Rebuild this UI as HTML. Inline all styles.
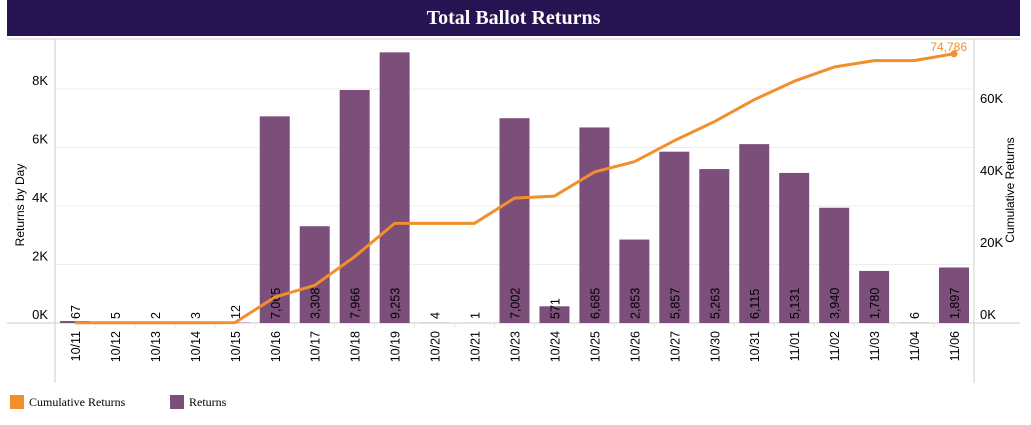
<!DOCTYPE html>
<html><head><meta charset="utf-8"><style>
body{margin:0;background:#fff;font-family:"Liberation Sans",sans-serif}
</style></head><body>
<div style="position:absolute;left:7px;top:0;width:1013px;height:36px;background:#261452;color:#fff;font-family:'Liberation Serif',serif;font-weight:bold;font-size:20px;text-align:center;line-height:36px">Total Ballot Returns</div>
<svg id="c" width="1031" height="425" style="position:absolute;left:0;top:0;pointer-events:none" xmlns="http://www.w3.org/2000/svg"></svg>
<script>
const categories=["10/11","10/12","10/13","10/14","10/15","10/16","10/17","10/18","10/19","10/20","10/21","10/23","10/24","10/25","10/26","10/27","10/30","10/31","11/01","11/02","11/03","11/04","11/06"];
const returns=[67,5,2,3,12,7065,3308,7966,9253,4,1,7002,571,6685,2853,5857,5263,6115,5131,3940,1780,6,1897];
const leftTicks=[0,2000,4000,6000,8000];
const rightTicks=[0,20000,40000,60000];
const svg=document.getElementById('c');
const NS='http://www.w3.org/2000/svg';
const X0=55,X1=974,BASE=323;
const bw=(X1-X0)/categories.length;
const xc=i=>X0+bw*(i+0.5);
const yL=v=>BASE-v*0.02925;
const yR=v=>BASE-v*0.0036;
function el(t,a,name,txt){const e=document.createElementNS(NS,t);for(const k in a)e.setAttribute(k,a[k]);


if(txt!==undefined)e.textContent=txt;svg.appendChild(e);return e;}
el('line',{x1:7,x2:1020,y1:39,y2:39,stroke:'#d0d0d0'},'top-border');
leftTicks.forEach(v=>{if(v>0)el('line',{x1:X0,x2:X1,y1:yL(v),y2:yL(v),stroke:'#eeeeee'},'gridline');
el('text',{x:48,y:yL(v)-4,'text-anchor':'end','font-size':13,fill:'#000'},'left-tick-label',(v/1000)+'K');});
rightTicks.forEach(v=>{el('text',{x:980,y:yR(v)-4,'font-size':13,fill:'#000'},'right-tick-label',(v/1000)+'K');});
el('line',{x1:X0,x2:X0,y1:39,y2:383,stroke:'#cccccc'},'left-axis-line');
el('line',{x1:X1,x2:X1,y1:39,y2:383,stroke:'#cccccc'},'right-axis-line');
el('line',{x1:7,x2:1020,y1:BASE,y2:BASE,stroke:'#cccccc'},'x-axis-line');
el('text',{transform:'translate(24,205) rotate(-90)','text-anchor':'middle','font-size':12},'y-axis-title','Returns by Day');
el('text',{transform:'translate(1014,190) rotate(-90)','text-anchor':'middle','font-size':12},'y2-axis-title','Cumulative Returns');
let cum=0;const pts=[];
categories.forEach((c,i)=>{
 const v=returns[i];const y=yL(v);const x=xc(i);
 el('rect',{x:x-15,y:y,width:30,height:BASE-y,fill:'#7b4f7a'},'bar-'+c.replace('/','-'));
 if(i>0)el('line',{x1:X0+bw*i,x2:X0+bw*i,y1:BASE,y2:BASE+5,stroke:'#e6e6e6'},'x-tick');
 el('text',{transform:`translate(${x+5},${BASE+8}) rotate(-90)`,'text-anchor':'end','font-size':12.5},'x-tick-label',c);
 const lbl=v.toLocaleString('en-US');
 el('text',{transform:`translate(${x+5},${BASE-4}) rotate(-90)`,'font-size':12.5,fill:'#000'},'bar-value-label',lbl);
 cum+=v;pts.push([x,yR(cum)]);
});
el('polyline',{points:pts.map(p=>p.join(',')).join(' '),fill:'none',stroke:'#f28e2b','stroke-width':3,'stroke-linejoin':'round'},'cumulative-line');
const lp=pts[pts.length-1];
el('circle',{cx:lp[0],cy:lp[1],r:3.5,fill:'#f28e2b'},'cumulative-end-point');
el('text',{x:lp[0]+13,y:lp[1]-3,'text-anchor':'end','font-size':12,fill:'#f28e2b'},'cumulative-total-label',cum.toLocaleString('en-US'));
el('rect',{x:10,y:395,width:14,height:14,fill:'#f28e2b'},'legend-swatch-cumulative');
el('text',{x:29,y:406,'font-size':12,'font-family':'Liberation Serif, serif'},'legend-label-cumulative','Cumulative Returns');
el('rect',{x:170,y:395,width:14,height:14,fill:'#7b4f7a'},'legend-swatch-returns');
el('text',{x:189,y:406,'font-size':12,'font-family':'Liberation Serif, serif'},'legend-label-returns','Returns');
</script>
</body></html>
